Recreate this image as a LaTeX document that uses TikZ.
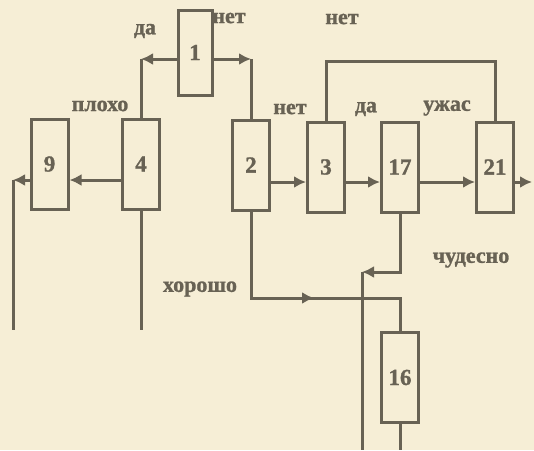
\documentclass[tikz,border=0pt]{standalone}
\usepackage{fontspec}
\setmainfont{Liberation Serif}[BoldFeatures={FakeBold=1.2}]
\usetikzlibrary{arrows.meta}

\definecolor{ink}{RGB}{104,98,84}
\definecolor{paper}{RGB}{246,238,214}

\begin{document}
\begin{tikzpicture}[
  x=1pt, y=-1pt,
  block/.style={rectangle, draw=ink, line width=3pt, minimum width=37pt,
    minimum height=90pt, inner sep=0pt, text=ink,
    font=\bfseries\fontsize{23}{23}\selectfont},
  flow/.style={draw=ink, line width=3pt, -{Latex[length=12pt,width=12pt]}},
  wire/.style={draw=ink, line width=3pt},
  lbl/.style={inner sep=0pt, text=ink, font=\bfseries\fontsize{22}{22}\selectfont}
]
\fill[paper] (0,0) rectangle (534,450);
\useasboundingbox (0,0) rectangle (534,450);

% blocks
\node[block, minimum width=34pt, minimum height=85pt] (1) at (195,52.5) {1};
\node[block] (9) at (49.5,164) {9};
\node[block] (4) at (141,164) {4};
\node[block] (2) at (251,165) {2};
\node[block] (3) at (326,167) {3};
\node[block] (17) at (400,167) {17};
\node[block] (21) at (495,167) {21};
\node[block] (16) at (400,377.5) {16};

% corners and free ends
\coordinate (c1) at (141,59);
\coordinate (c2) at (251,59);
\coordinate (c9) at (13,180);
\coordinate (e9) at (13,330);
\coordinate (e4) at (141,330);
\coordinate (r) at (0,182);
\coordinate (o21) at (532,182);
\coordinate (fb) at (400,61);
\coordinate (a5) at (314,298);
\coordinate (c6) at (362,272);
\coordinate (e6) at (362,450);
\coordinate (e16) at (400,450);

% connectors
\draw[flow] (c1 -| 1.west) -- (c1);
\draw[wire] (c1) -- (4.north);
\draw[flow] (c2 -| 1.east) -- (c2);
\draw[wire] (c2) -- (2.north);
\draw[flow] (4.west |- c9) -- (9.east |- c9);
\draw[flow] (9.west |- c9) -- (c9);
\draw[wire] (c9) -- (e9);
\draw[wire] (4.south) -- (e4);
\draw[flow] (2.east |- r) -- (3.west |- r);
\draw[flow] (3.east |- r) -- (17.west |- r);
\draw[flow] (17.east |- r) -- (21.west |- r);
\draw[flow] (21.east |- r) -- (o21);
\draw[wire] (3.north) |- (fb) -| (21.north);
\draw[wire] (2.south) |- (a5) -| (16.north);
\draw[flow] (2.south) |- (a5);
\draw[flow] (17.south) |- (c6);
\draw[wire] (c6) -- (e6);
\draw[wire] (16.south) -- (e16);

% labels
\node[lbl] (da1) at (145,31) {да};
\node[lbl] (net1) at (229,18) {нет};
\node[lbl] (ploho) at (100,106) {плохо};
\node[lbl] (net2) at (342,19) {нет};
\node[lbl] (net3) at (290,109) {нет};
\node[lbl] (da2) at (366,109) {да};
\node[lbl] (uzhas) at (447,108) {ужас};
\node[lbl] (horosho) at (200,289) {хорошо};
\node[lbl] (chudesno) at (471,260) {чудесно};
\end{tikzpicture}
\end{document}
